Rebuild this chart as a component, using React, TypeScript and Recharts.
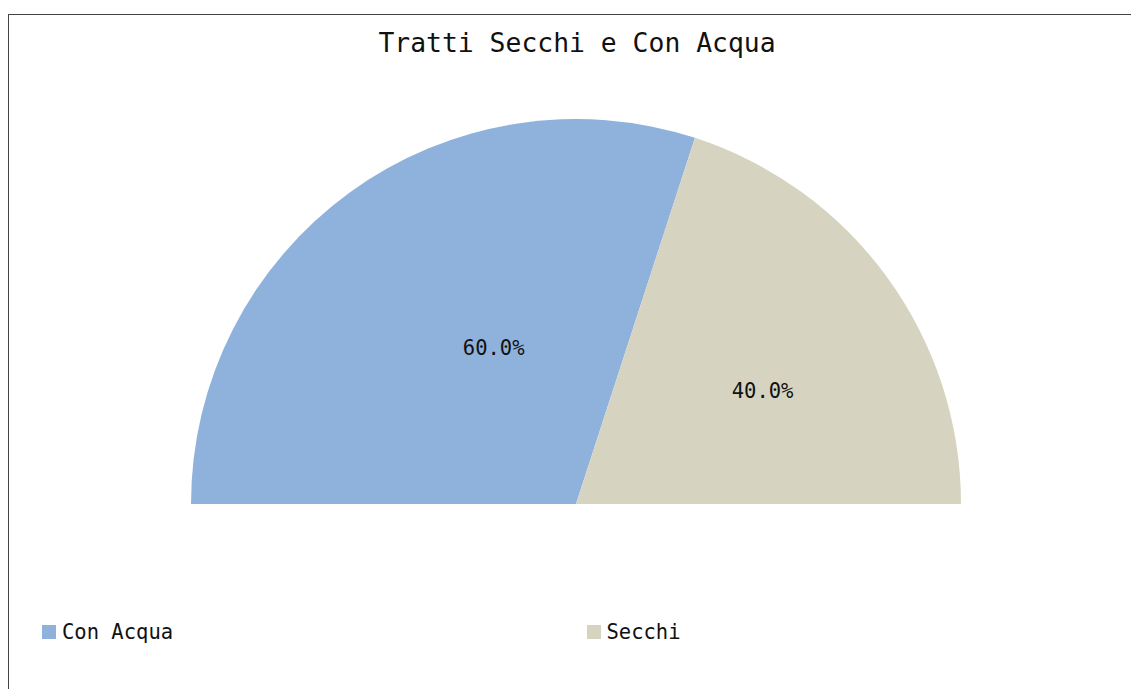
import React from "react";
import { PieChart, Pie, Cell, Legend } from "recharts";

const categories = ["Con Acqua", "Secchi"];
const values = [60, 40];
const colors = ["#8FB2DC", "#D6D4C1"];
const title = "Tratti Secchi e Con Acqua";

const data = categories.map((name, i) => ({ name, value: values[i] }));
const total = values.reduce((a, b) => a + b, 0);

const FONT = "'DejaVu Sans Mono', monospace";
const RAD = Math.PI / 180;

const renderLabel = (props: any) => {
  const { cx, cy, midAngle, outerRadius, value } = props;
  const r = outerRadius * 0.5;
  const x = cx + r * Math.cos(-midAngle * RAD);
  const y = cy + r * Math.sin(-midAngle * RAD);
  return (
    <text
      x={x}
      y={y}
      textAnchor="start"
      dominantBaseline="central"
      fill="#111"
      style={{ fontFamily: FONT, fontSize: 20.5 }}
    >
      {((value / total) * 100).toFixed(1) + "%"}
    </text>
  );
};

const renderLegend = (props: any) => {
  const { payload } = props;
  return (
    <div style={{ display: "flex", paddingLeft: 33 }}>
      {(payload || []).map((entry: any, i: number) => (
        <div
          key={i}
          style={{ width: 545, display: "flex", alignItems: "center" }}
        >
          <span
            style={{
              display: "inline-block",
              width: 14,
              height: 14,
              background: entry.color,
              marginRight: 6,
            }}
          />
          <span style={{ fontFamily: FONT, fontSize: 20.5, color: "#111" }}>
            {entry.value}
          </span>
        </div>
      ))}
    </div>
  );
};

export default function App() {
  return (
    <div
      style={{
        position: "absolute",
        left: 8,
        top: 14,
        width: 1123,
        height: 675,
        borderTop: "1px solid #444",
        borderLeft: "1px solid #444",
        boxSizing: "border-box",
        background: "#fff",
      }}
    >
      <div
        style={{
          position: "absolute",
          left: 0,
          top: 12,
          width: 1136,
          textAlign: "center",
          fontFamily: FONT,
          fontSize: 26.4,
          color: "#111",
        }}
      >
        {title}
      </div>
      <PieChart width={1122} height={674}>
        <Pie
          data={data}
          dataKey="value"
          nameKey="name"
          cx={562}
          cy={484}
          outerRadius={385}
          innerRadius={0}
          startAngle={180}
          endAngle={0}
          stroke="none"
          label={renderLabel}
          labelLine={false}
          isAnimationActive={false}
        >
          {data.map((d, i) => (
            <Cell key={d.name} fill={colors[i]} />
          ))}
        </Pie>
        <Legend
          content={renderLegend}
          wrapperStyle={{ position: "absolute", left: 0, top: 605, width: 1122 }}
        />
      </PieChart>
    </div>
  );
}
